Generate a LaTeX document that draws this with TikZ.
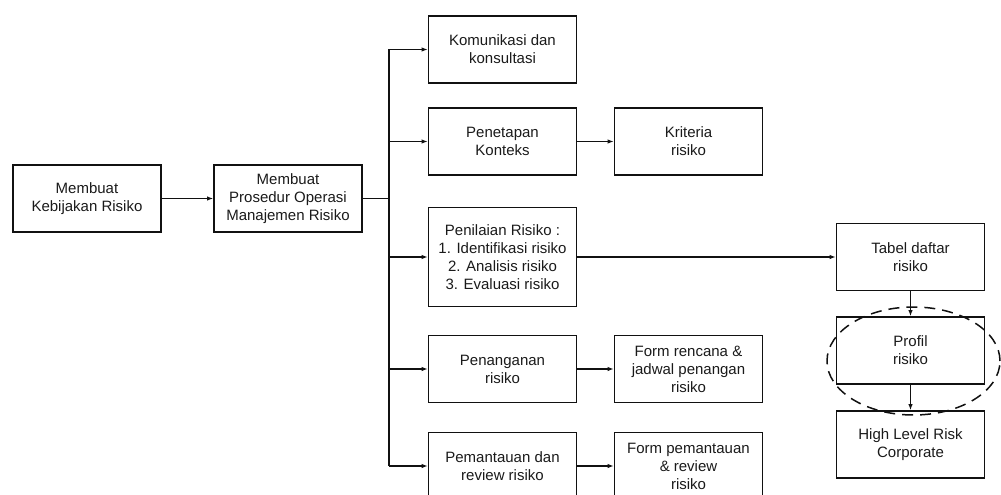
\documentclass[tikz,border=0pt]{standalone}
\usepackage{fontspec}
\setmainfont{Liberation Sans}
\usetikzlibrary{arrows.meta,positioning,calc}
\definecolor{RiskInk}{HTML}{1A1A1A}
\definecolor{RiskLine}{HTML}{111111}
\tikzset{
  risk text/.style={font=\fontsize{15}{18}\selectfont, text=RiskInk},
  risk box/.style={risk text, draw=RiskLine, line width=1.6pt, minimum width=148pt, minimum height=67pt, inner sep=2pt, align=center},
  risk tall/.style={risk box, minimum height=99pt},
  risk link/.style={draw=RiskLine, line width=1.1pt, -{Latex[length=6pt,width=4.4pt]}},
  risk bus/.style={draw=RiskLine, line width=1.1pt},
  risk focus/.style={draw=RiskLine, line width=1.5pt, dash pattern=on 11pt off 7pt},
}
\begin{document}
\begin{tikzpicture}[x=1pt,y=-1pt]
  \useasboundingbox (0,0) rectangle (1001,495);
  \clip (0,0) rectangle (1001,495);

  % Policy, then the operating procedure.
  \node[risk box] (kebijakan) at (87,198.5) {Membuat\\Kebijakan Risiko};
  \node[risk box] (prosedur) at (288,198.5) {Membuat\\Prosedur Operasi\\Manajemen Risiko};

  % Process steps fed from one vertical bus.
  \coordinate (bus) at (389,0);
  \node[risk box] (komunikasi) at (502.5,49.5) {Komunikasi dan\\konsultasi};
  \node[risk box] (penetapan) at (502.5,141.5) {Penetapan\\Konteks};
  \node[risk tall] (penilaian) at (502.5,257) {Penilaian Risiko :\\1. Identifikasi risiko\\2. Analisis risiko\\3. Evaluasi risiko};
  \node[risk box] (penanganan) at (502.5,369) {Penanganan\\risiko};
  \node[risk box] (pemantauan) at (502.5,466) {Pemantauan dan\\review risiko};

  % Outputs of each step.
  \node[risk box] (kriteria) at (688.5,141.5) {Kriteria\\risiko};
  \node[risk box] (rencana) at (688.5,369) {Form rencana \&\\jadwal penangan\\risiko};
  \node[risk box] (formpantau) at (688.5,466) {Form pemantauan\\\& review\\risiko};

  \node[risk box] (tabel) at (910.5,257) {Tabel daftar\\risiko};
  \node[risk box] (profil) at (910.5,350.5) {Profil\\risiko};
  \node[risk box] (highlevel) at (910.5,444.5) {High Level Risk\\Corporate};

  \draw[risk link] (kebijakan) -- (prosedur);
  \draw[risk bus] (prosedur.east) -- (bus |- prosedur.east);
  \draw[risk bus] (bus |- komunikasi.west) -- (bus |- pemantauan.west);
  \foreach \step in {komunikasi,penetapan,penilaian,penanganan,pemantauan}
    \draw[risk link] (bus |- \step.west) -- (\step.west);

  \draw[risk link] (penetapan) -- (kriteria);
  \draw[risk link] (penanganan) -- (rencana);
  \draw[risk link] (pemantauan) -- (formpantau);
  \draw[risk link] (penilaian) -- (tabel);
  \draw[risk link] (tabel) -- (profil);
  \draw[risk link] (profil) -- (highlevel);

  % Highlight round the risk profile.
  \draw[risk focus] ($(profil.center)+(3,10.5)$) ellipse [x radius=86.5pt, y radius=54pt];
\end{tikzpicture}
\end{document}
